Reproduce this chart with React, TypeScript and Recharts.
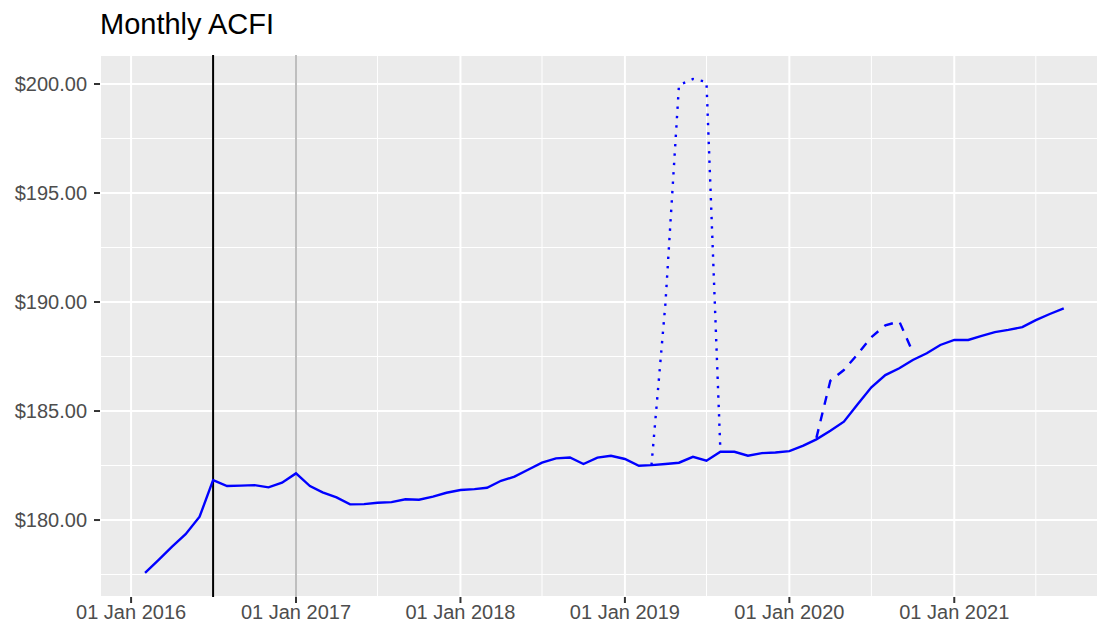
import React from 'react';
import { LineChart, Line, XAxis, YAxis, CartesianGrid, ReferenceLine } from 'recharts';

// months run Feb 2016 .. Sep 2021
const months: string[] = [];
for (let y = 2016; y <= 2021; y++) {
    for (let m = 1; m <= 12; m++) {
        if (y === 2016 && m === 1) continue;
        if (y === 2021 && m > 9) continue;
        months.push(`${y}-${String(m).padStart(2, '0')}-01`);
    }
}

const acfi = [
    177.58, 178.15, 178.78, 179.35, 180.15, 181.83, 181.56, 181.58, 181.6, 181.5, 181.71,
    182.14, 181.56, 181.27, 181.04, 180.72, 180.73, 180.79, 180.82, 180.95, 180.93, 181.07, 181.25,
    181.38, 181.42, 181.48, 181.8, 181.99, 182.32, 182.63, 182.83, 182.87, 182.57, 182.86, 182.95,
    182.8, 182.49, 182.52, 182.57, 182.63, 182.9, 182.72, 183.13, 183.13, 182.95, 183.07, 183.1,
    183.16, 183.41, 183.7, 184.1, 184.51, 185.32, 186.09, 186.65, 186.96, 187.34, 187.65, 188.03,
    188.26, 188.26, 188.44, 188.62, 188.72, 188.85, 189.17, 189.45, 189.71,
];

// dotted scenario, Mar 2019 .. Aug 2019
const dottedStart = '2019-03-01';
const dotted = [182.52, 189.95, 199.95, 200.23, 200.1, 183.13];

// dashed scenario, Mar 2020 .. Oct 2020
const dashedStart = '2020-03-01';
const dashed = [183.77, 186.39, 186.88, 187.62, 188.39, 188.93, 189.11, 187.7];

const xTicks = ['2016-01-01', '2017-01-01', '2018-01-01', '2019-01-01', '2020-01-01', '2021-01-01'];
const xMinor = ['2016-07-01', '2017-07-01', '2018-07-01', '2019-07-01', '2020-07-01', '2021-07-01'];
const yTicks = [180, 185, 190, 195, 200];
const yMinor = [177.5, 182.5, 187.5, 192.5, 197.5];

const ts = (s: string) => Date.parse(s + 'T00:00:00Z');
const MON = ['Jan', 'Feb', 'Mar', 'Apr', 'May', 'Jun', 'Jul', 'Aug', 'Sep', 'Oct', 'Nov', 'Dec'];
const fmtDate = (v: number) => {
    const d = new Date(v);
    return `${String(d.getUTCDate()).padStart(2, '0')} ${MON[d.getUTCMonth()]} ${d.getUTCFullYear()}`;
};

const i0 = months.indexOf(dottedStart);
const j0 = months.indexOf(dashedStart);
const data = months.map((m, i) => ({
    t: ts(m),
    acfi: acfi[i],
    dotted: i >= i0 && i < i0 + dotted.length ? dotted[i - i0] : null,
    dashed: i >= j0 && i < j0 + dashed.length ? dashed[i - j0] : null,
}));

const tickStyle = { fontSize: 20, fill: '#4D4D4D', fontFamily: '"Liberation Sans", Arial, sans-serif' };

export default function App() {
    return (
        <div style={{ position: 'absolute', left: 0, top: 0, width: 1098, height: 629, background: '#fff' }}>
            <div style={{ position: 'absolute', left: 100, top: 10, fontSize: 29, lineHeight: '29px', color: '#000', fontFamily: '"Liberation Sans", Arial, sans-serif' }}>
                Monthly ACFI
            </div>
            <LineChart width={1098} height={629} data={data} margin={{ top: 55, right: 0, bottom: 0, left: 0 }}>
                <CartesianGrid fill="#EBEBEB" stroke="#fff" strokeWidth={1}
                    horizontalValues={yMinor} verticalValues={xMinor.map(ts)} />
                <CartesianGrid stroke="#fff" strokeWidth={2} />
                <XAxis dataKey="t" type="number" scale="linear" allowDataOverflow
                    domain={[Date.UTC(2015, 9, 24), Date.UTC(2021, 10, 16)]}
                    ticks={xTicks.map(ts)} tickFormatter={fmtDate}
                    height={32} tickSize={6} tickMargin={2}
                    axisLine={false} tickLine={{ stroke: '#333', strokeWidth: 2 }} tick={tickStyle} />
                <YAxis type="number" allowDataOverflow domain={[176.47, 201.33]} ticks={yTicks}
                    tickFormatter={(v: number) => `$${v.toFixed(2)}`}
                    width={100} tickSize={6} tickMargin={7}
                    axisLine={false} tickLine={{ stroke: '#333', strokeWidth: 2 }} tick={tickStyle} />
                <ReferenceLine x={ts('2016-07-01')} stroke="#000" strokeWidth={2} />
                <ReferenceLine x={ts('2017-01-01')} stroke="#BEBEBE" strokeWidth={2} />
                <Line dataKey="dotted" stroke="#0000FF" strokeWidth={2.4} strokeDasharray="2.4 7" dot={false} isAnimationActive={false} />
                <Line dataKey="dashed" stroke="#0000FF" strokeWidth={2.4} strokeDasharray="9 8" dot={false} isAnimationActive={false} />
                <Line dataKey="acfi" stroke="#0000FF" strokeWidth={2.4} dot={false} isAnimationActive={false} />
            </LineChart>
        </div>
    );
}
